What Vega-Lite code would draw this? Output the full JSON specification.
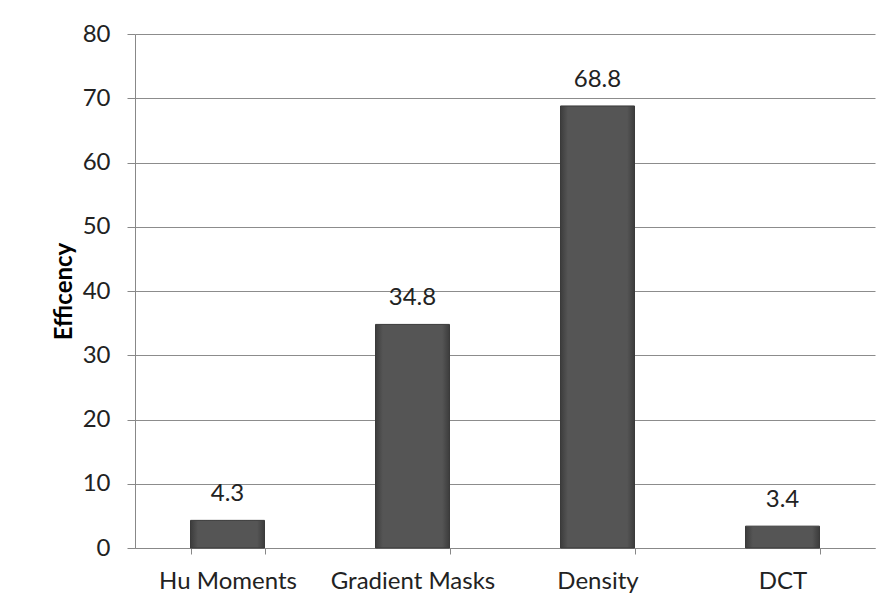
{
  "$schema": "https://vega.github.io/schema/vega-lite/v6.json",
  "width": 740,
  "height": 514,
  "autosize": "none",
  "padding": {"left": 135, "top": 34, "right": 18, "bottom": 65},
  "background": "white",
  "config": {
    "font": "Lato",
    "view": {"stroke": null},
    "axis": {"labelFont": "Lato", "titleFont": "Lato"}
  },
  "data": {
    "values": [
      {"method": "Hu Moments", "efficency": 4.3},
      {"method": "Gradient Masks", "efficency": 34.8},
      {"method": "Density", "efficency": 68.8},
      {"method": "DCT", "efficency": 3.4}
    ]
  },
  "encoding": {
    "x": {
      "field": "method",
      "type": "nominal",
      "sort": null,
      "scale": {"paddingInner": 0.6, "paddingOuter": 0.3},
      "axis": {
        "title": null,
        "labelAngle": 0,
        "labelFontSize": 24,
        "labelColor": "#222222",
        "labelPadding": 15,
        "tickBand": "extent",
        "tickSize": 6,
        "tickColor": "#888888",
        "domainColor": "#888888",
        "grid": false
      }
    },
    "y": {
      "field": "efficency",
      "type": "quantitative",
      "scale": {"domain": [0, 80], "nice": false},
      "axis": {
        "title": "Efficency",
        "titleFontSize": 24,
        "titleFontWeight": "bold",
        "titleColor": "#000000",
        "titlePadding": 6,
        "values": [0, 10, 20, 30, 40, 50, 60, 70, 80],
        "labelFontSize": 24,
        "labelColor": "#222222",
        "labelPadding": 17,
        "tickSize": 8,
        "tickColor": "#888888",
        "domainColor": "#888888",
        "grid": true,
        "gridColor": "#8c8c8c",
        "gridOpacity": 1
      }
    }
  },
  "layer": [
    {
      "mark": {
        "type": "bar",
        "stroke": "#3a3a3a",
        "strokeWidth": 1,
        "color": {
          "gradient": "linear",
          "x1": 0, "y1": 0, "x2": 1, "y2": 0,
          "stops": [
            {"offset": 0, "color": "#3c3c3c"},
            {"offset": 0.1, "color": "#555555"},
            {"offset": 0.9, "color": "#555555"},
            {"offset": 1, "color": "#3c3c3c"}
          ]
        }
      }
    },
    {
      "mark": {
        "type": "text",
        "baseline": "alphabetic",
        "dy": -19,
        "fontSize": 24,
        "color": "#222222"
      },
      "encoding": {
        "text": {"field": "efficency", "type": "quantitative", "format": ".1f"}
      }
    }
  ]
}
